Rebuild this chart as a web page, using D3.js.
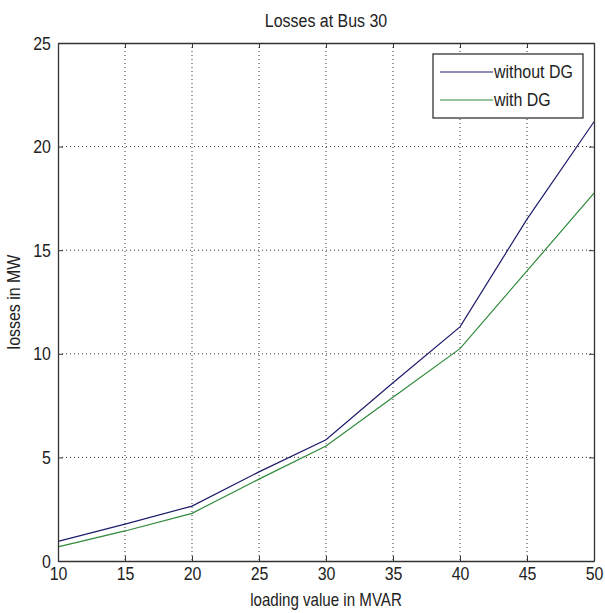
<!DOCTYPE html>
<html><head><meta charset="utf-8">
<script src="https://cdn.jsdelivr.net/npm/d3@7"></script>
<style>
body{margin:0;background:#fff;}
text{font-family:"Liberation Sans",Arial,sans-serif;fill:#222;}
</style></head>
<body><svg id="c" width="605" height="613"></svg>
<script>
const loading = [10, 15, 20, 25, 30, 35, 40, 45, 50];
const withoutDG = [0.95, 1.78, 2.65, 4.3, 5.85, 8.6, 11.3, 16.5, 21.2];
const withDG = [0.68, 1.45, 2.3, 3.95, 5.55, 7.9, 10.25, 14.0, 17.75];
const xTicks = [10, 15, 20, 25, 30, 35, 40, 45, 50];
const yTicks = [0, 5, 10, 15, 20, 25];
const seriesNames = ["without DG", "with DG"];
const seriesColors = ["#1c1c6b", "#2f8a3a"];

const SX = 0.84, FS = "19px";
const svg = d3.select("#c");
const L = 58, R = 594, T = 43, B = 561;
const x = d3.scaleLinear().domain([10, 50]).range([L, R]);
const y = d3.scaleLinear().domain([0, 25]).range([B, T]);

function ctext(px, py, str, anchor, rot, fs) {
  return svg.append("text")
    .attr("transform", `translate(${px},${py})` + (rot ? ` rotate(${rot})` : "") + ` scale(${SX},1)`)
    .attr("text-anchor", anchor || "start").style("font-size", fs || FS).text(str);
}

// grid
const g = svg.append("g");
g.selectAll(".gx").data(xTicks.slice(1, -1)).enter().append("line")
  .attr("x1", d => x(d)).attr("x2", d => x(d)).attr("y1", T).attr("y2", B)
  .attr("stroke", "#333").attr("stroke-width", 1).attr("stroke-dasharray", "1,3");
g.selectAll(".gy").data(yTicks.slice(1, -1)).enter().append("line")
  .attr("y1", d => y(d)).attr("y2", d => y(d)).attr("x1", L).attr("x2", R)
  .attr("stroke", "#333").attr("stroke-width", 1).attr("stroke-dasharray", "1,3");

// lines
const line = d3.line().x((d, i) => x(loading[i])).y(d => y(d));
[withoutDG, withDG].forEach((s, k) => {
  svg.append("path").datum(s).attr("d", line).attr("fill", "none")
    .attr("stroke", seriesColors[k]).attr("stroke-width", 1.2);
});

// axes (inward ticks, box)
const ax = svg.append("g").attr("transform", `translate(0,${B})`)
  .call(d3.axisBottom(x).tickValues(xTicks).tickSizeInner(-5).tickSizeOuter(0).tickPadding(10));
const axT = svg.append("g").attr("transform", `translate(0,${T})`)
  .call(d3.axisTop(x).tickValues(xTicks).tickSizeInner(-5).tickSizeOuter(0).tickFormat(""));
const ay = svg.append("g").attr("transform", `translate(${L},0)`)
  .call(d3.axisLeft(y).tickValues(yTicks).tickSizeInner(-5).tickSizeOuter(0).tickPadding(8));
const ayR = svg.append("g").attr("transform", `translate(${R},0)`)
  .call(d3.axisRight(y).tickValues(yTicks).tickSizeInner(-5).tickSizeOuter(0).tickFormat(""));
[ax, axT, ay, ayR].forEach(a => {
  a.select(".domain").attr("stroke", "#333").attr("stroke-width", 1.3);
  a.selectAll(".tick line").attr("stroke", "#333");
  a.selectAll("text").style("font-size", FS).attr("fill", "#222");
});
ax.selectAll("text").attr("dy", "0.45em").attr("transform", `scale(${SX},1)`);
ay.selectAll("text").attr("x", -7 / SX).attr("transform", `scale(${SX},1)`);

// title & labels
ctext(326, 27, "Losses at Bus 30", "middle");
ctext(326, 606, "loading value in MVAR", "middle", 0, "18px");
ctext(20, 302, "losses in MW", "middle", -90);

// legend
const lg = svg.append("g");
lg.append("rect").attr("x", 433).attr("y", 54).attr("width", 150).attr("height", 64)
  .attr("fill", "#fff").attr("stroke", "#333").attr("stroke-width", 1.3);
seriesNames.forEach((n, k) => {
  const yy = 72 + k * 28;
  lg.append("line").attr("x1", 440).attr("x2", 493).attr("y1", yy).attr("y2", yy)
    .attr("stroke", seriesColors[k]).attr("stroke-width", 1.2);
  lg.append("text").attr("transform", `translate(494,${yy + 6}) scale(${SX},1)`)
    .style("font-size", FS).text(n);
});
</script></body></html>
